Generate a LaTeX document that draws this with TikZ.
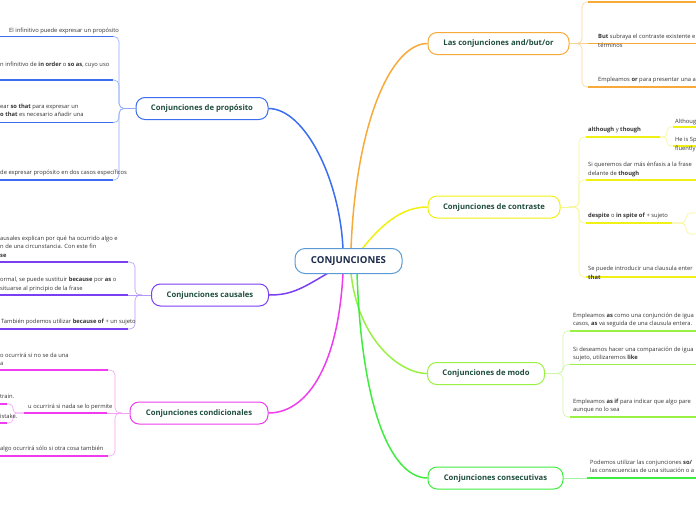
\documentclass[tikz,border=0pt]{standalone}
\usepackage{fontspec}
\setmainfont{Open Sans}
\definecolor{cblue}{HTML}{3A6DF0}\definecolor{tblue}{HTML}{8EABFA}
\definecolor{cpurp}{HTML}{7B3FF2}\definecolor{tpurp}{HTML}{B596FA}
\definecolor{cmag}{HTML}{EE3CEE}\definecolor{tmag}{HTML}{F6A0F6}
\definecolor{corg}{HTML}{F7AA3A}\definecolor{torg}{HTML}{FAD394}
\definecolor{cyel}{HTML}{F0F014}\definecolor{tyel}{HTML}{F6F690}
\definecolor{clgr}{HTML}{9BF044}\definecolor{tlgr}{HTML}{CBF7A4}
\definecolor{cgrn}{HTML}{40EC40}\definecolor{tgrn}{HTML}{A2F5A2}
\definecolor{cborder}{HTML}{5B9BD5}\definecolor{ctext}{HTML}{1B2A4A}
\definecolor{btext}{HTML}{1F4E3D}\definecolor{ltext}{HTML}{333333}
\begin{document}
\begin{tikzpicture}[x=1pt,y=-1pt,
  central/.style={draw=cborder, line width=1pt, rounded corners=10pt, fill=white,
    minimum width=107pt, minimum height=25pt, text=ctext,
    font=\fontsize{9.6}{11}\selectfont\bfseries},
  mainbr/.style={draw, line width=1pt, rounded corners=9pt, fill=white,
    minimum height=22pt, text=btext, inner sep=0pt,
    font=\fontsize{7.7}{9}\selectfont\bfseries},
  leaf/.style={font=\fontsize{5.8}{8.6}\selectfont, text=ltext, align=left,
    inner sep=0pt, anchor=north west},
  thinc/.style={line width=0.6pt, rounded corners=5pt},
  under/.style={line width=1.8pt},
  trunk/.style={line width=1.5pt}]
\useasboundingbox (0,0) rectangle (696,520);
\clip (0,0) rectangle (696,520);

% ---------- trunks ----------
\coordinate (sB) at (343,249);
\coordinate (sO) at (351,249);
\coordinate (sY) at (362,249);
\coordinate (sP) at (328,273);
\coordinate (sM) at (343,273);
\coordinate (sL) at (351,273);
\coordinate (sG) at (357,273);

\node[mainbr, draw=cblue, minimum width=132pt] (P) at (202,108.5) {Conjunciones de propósito};
\node[mainbr, draw=cpurp, minimum width=117pt] (C) at (210,295) {Conjunciones causales};
\node[mainbr, draw=cmag, minimum width=138pt] (D) at (199,413) {Conjunciones condicionales};
\node[mainbr, draw=corg, minimum width=141pt] (A) at (498.5,43.5) {Las conjunciones and/but/or};
\node[mainbr, draw=cyel, minimum width=132pt] (K) at (494,207) {Conjunciones de contraste};
\node[mainbr, draw=clgr, minimum width=117pt] (M) at (486,373.5) {Conjunciones de modo};
\node[mainbr, draw=cgrn, minimum width=135pt] (N) at (495.5,478) {Conjunciones consecutivas};

\draw[trunk, cblue] (sB) .. controls (340,180) and (305,108.5) .. (P.east);
\draw[trunk, corg] (sO) .. controls (356,120) and (392,43.5) .. (A.west);
\draw[trunk, cyel] (sY) .. controls (385,220) and (405,207) .. (K.west);
\draw[trunk, cpurp] (sP) .. controls (300,290) and (290,295) .. (C.east);
\draw[trunk, cmag] (sM) .. controls (338,370) and (305,413) .. (D.east);
\draw[trunk, clgr] (sL) .. controls (358,340) and (400,373.5) .. (M.west);
\draw[trunk, cgrn] (sG) .. controls (362,420) and (395,478) .. (N.west);

\node[central] (X) at (348.5,261) {CONJUNCIONES};

% ---------- Propósito ----------
\coordinate (jP) at (127,108.5);
\coordinate (p1) at (113,36.5);
\coordinate (p2) at (113,80);
\coordinate (p3) at (113,122.5);
\coordinate (p4) at (113,180);
\draw[thinc, tblue] (P.west) -- (jP);
\foreach \e in {p1,p2,p3,p4} \draw[thinc, tblue] (jP) -| ([xshift=6pt]\e) -- (\e);
\draw[under, cblue] (0,36.5) -- (p1);
\draw[under, cblue] (0,80) -- (p2);
\draw[under, cblue] (0,122.5) -- (p3);
\draw[under, cblue] (0,180) -- (p4);
\node[leaf] (lp1) at (9,27.5) {El infinitivo puede expresar un propósito};
\node[leaf] (lp2) at (0,61.5) {n infinitivo de \textbf{in order} o \textbf{so as}, cuyo uso};
\node[leaf] (lp3) at (0,103.5) {ear \textbf{so that} para expresar un\\\textbf{o that} es necesario añadir una};
\node[leaf] (lp4) at (0,170) {de expresar propósito en dos casos específicos};

% ---------- Causales ----------
\coordinate (jC) at (142,295);
\coordinate (c1) at (128,262);
\coordinate (c2) at (128,295);
\coordinate (c3) at (128,329);
\draw[thinc, tpurp] (C.west) -- (jC);
\draw[thinc, tpurp] (jC) -| ([xshift=7pt]c1) -- (c1);
\draw[thinc, tpurp] (jC) -- (c2);
\draw[thinc, tpurp] (jC) -| ([xshift=7pt]c3) -- (c3);
\draw[under, cpurp] (0,262) -- (c1);
\draw[under, cpurp] (0,295) -- (c2);
\draw[under, cpurp] (0,329) -- (c3);
\node[leaf] (lc1) at (0,235.5) {ausales explican por qué ha ocurrido algo e\\n de una circunstancia. Con este fin\\\textbf{se}};
\node[leaf] (lc2) at (0,277) {ormal, se puede sustituir \textbf{because} por \textbf{as} o\\situarse al principio de la frase};
\node[leaf] (lc3) at (1,319) {También podemos utilizar \textbf{because of} + un sujeto};

% ---------- Condicionales ----------
\coordinate (jD) at (122,413);
\coordinate (d1) at (108,370);
\coordinate (d2) at (107,413);
\coordinate (d3) at (108,456);
\draw[thinc, tmag] (D.west) -- (jD);
\draw[thinc, tmag] (jD) -| ([xshift=7pt]d1) -- (d1);
\draw[thinc, tmag] (jD) -- (d2);
\draw[thinc, tmag] (jD) -| ([xshift=7pt]d3) -- (d3);
\draw[under, cmag] (0,370) -- (d1);
\coordinate (dj) at (24,413);
\draw[under, cmag] (dj) -- (d2);
\draw[under, cmag] (0,456) -- (d3);
\coordinate (ds1) at (7,404);
\coordinate (ds2) at (7,423);
\draw[thinc, tmag, rounded corners=4pt] (dj) -| ([xshift=6pt]ds1) -- (ds1);
\draw[thinc, tmag, rounded corners=4pt] (dj) -| ([xshift=6pt]ds2) -- (ds2);
\draw[under, cmag] (0,404) -- (ds1);
\draw[under, cmag] (0,423) -- (ds2);
\node[leaf] (ld1) at (0,352.5) {o ocurrirá si no se da una\\a};
\node[leaf] (ld2) at (28,403.5) {u ocurrirá si nada se lo permite};
\node[leaf] (ld3) at (0,394) {train.};
\node[leaf] (ld4) at (0,414) {istake.};
\node[leaf] (ld5) at (0,446) {algo ocurrirá sólo si otra cosa también};

% ---------- and/but/or ----------
\coordinate (jA) at (576,43.5);
\coordinate (a1) at (588,2);
\coordinate (a2) at (588,43.5);
\coordinate (a3) at (588,87);
\draw[thinc, torg] (A.east) -- (jA);
\draw[thinc, torg] (jA) -| ([xshift=-6pt]a1) -- (a1);
\draw[thinc, torg] (jA) -- (a2);
\draw[thinc, torg] (jA) -| ([xshift=-6pt]a3) -- (a3);
\draw[under, corg] (a1) -- (696,2);
\draw[under, corg] (a2) -- (696,43.5);
\draw[under, corg] (a3) -- (696,87);
\node[leaf] (la2) at (598,34) {\textbf{But} subraya el contraste existente e\\términos};
\node[leaf] (la3) at (598,77) {Empleamos \textbf{or} para presentar una a};

% ---------- Contraste ----------
\coordinate (jK) at (569,207);
\coordinate (k1) at (586,137);
\coordinate (k2) at (586,180);
\coordinate (k3) at (586,223);
\coordinate (k4) at (586,277);
\draw[thinc, tyel] (K.east) -- (jK);
\foreach \e in {k1,k2,k3,k4} \draw[thinc, tyel] (jK) -| ([xshift=-7pt]\e) -- (\e);
\coordinate (k1e) at (660,137);
\coordinate (k3e) at (672,223);
\draw[under, cyel] (k1) -- (k1e);
\draw[under, cyel] (k2) -- (696,180);
\draw[under, cyel] (k3) -- (k3e);
\draw[under, cyel] (k4) -- (696,277);
\coordinate (ks1) at (673,127);
\coordinate (ks2) at (673,146);
\draw[thinc, tyel, rounded corners=4pt] (k1e) -| ([xshift=-6pt]ks1) -- (ks1);
\draw[thinc, tyel, rounded corners=4pt] (k1e) -| ([xshift=-6pt]ks2) -- (ks2);
\draw[under, cyel] (ks1) -- (696,127);
\draw[under, cyel] (ks2) -- (696,146);
\coordinate (kt1) at (696,213);
\coordinate (kt2) at (696,234);
\draw[thinc, tyel, rounded corners=5pt] (k3e) -| ([xshift=-10pt]kt1) -- (kt1);
\draw[thinc, tyel, rounded corners=5pt] (k3e) -| ([xshift=-10pt]kt2) -- (kt2);
\node[leaf] (lk1) at (588,127) {\textbf{although} y \textbf{though}};
\node[leaf] (lk1a) at (675,119) {Althoug};
\node[leaf] (lk1b) at (675,137) {He is Sp\\fluently};
\node[leaf] (lk2) at (588,162) {Si queremos dar más énfasis a la frase\\delante de \textbf{though}};
\node[leaf] (lk3) at (588,213) {\textbf{despite} o \textbf{in spite of} + sujeto};
\node[leaf] (lk4) at (588,266) {Se puede introducir una clausula enter\\\textbf{that}};

% ---------- Modo ----------
\coordinate (jM) at (553,373.5);
\coordinate (m1) at (570,331);
\coordinate (m2) at (570,364.5);
\coordinate (m3) at (570,417);
\draw[thinc, tlgr] (M.east) -- (jM);
\foreach \e in {m1,m2,m3} \draw[thinc, tlgr] (jM) -| ([xshift=-7pt]\e) -- (\e);
\draw[under, clgr] (m1) -- (696,331);
\draw[under, clgr] (m2) -- (696,364.5);
\draw[under, clgr] (m3) -- (696,417);
\node[leaf] (lm1) at (573,312.5) {Empleamos \textbf{as} como una conjunción de igua\\casos, \textbf{as} va seguida de una clausula entera.};
\node[leaf] (lm2) at (573,346.5) {Si deseamos hacer una comparación de igua\\sujeto, utilizaremos \textbf{like}};
\node[leaf] (lm3) at (573,398.5) {Empleamos \textbf{as if} para indicar que algo pare\\aunque no lo sea};

% ---------- Consecutivas ----------
\coordinate (n1) at (587,478);
\draw[thinc, tgrn] (N.east) -- (n1);
\draw[under, cgrn] (n1) -- (696,478);
\node[leaf] (ln1) at (590,459.5) {Podemos utilizar las conjunciones \textbf{so/}\\las consecuencias de una situación o a};
\end{tikzpicture}
\end{document}
